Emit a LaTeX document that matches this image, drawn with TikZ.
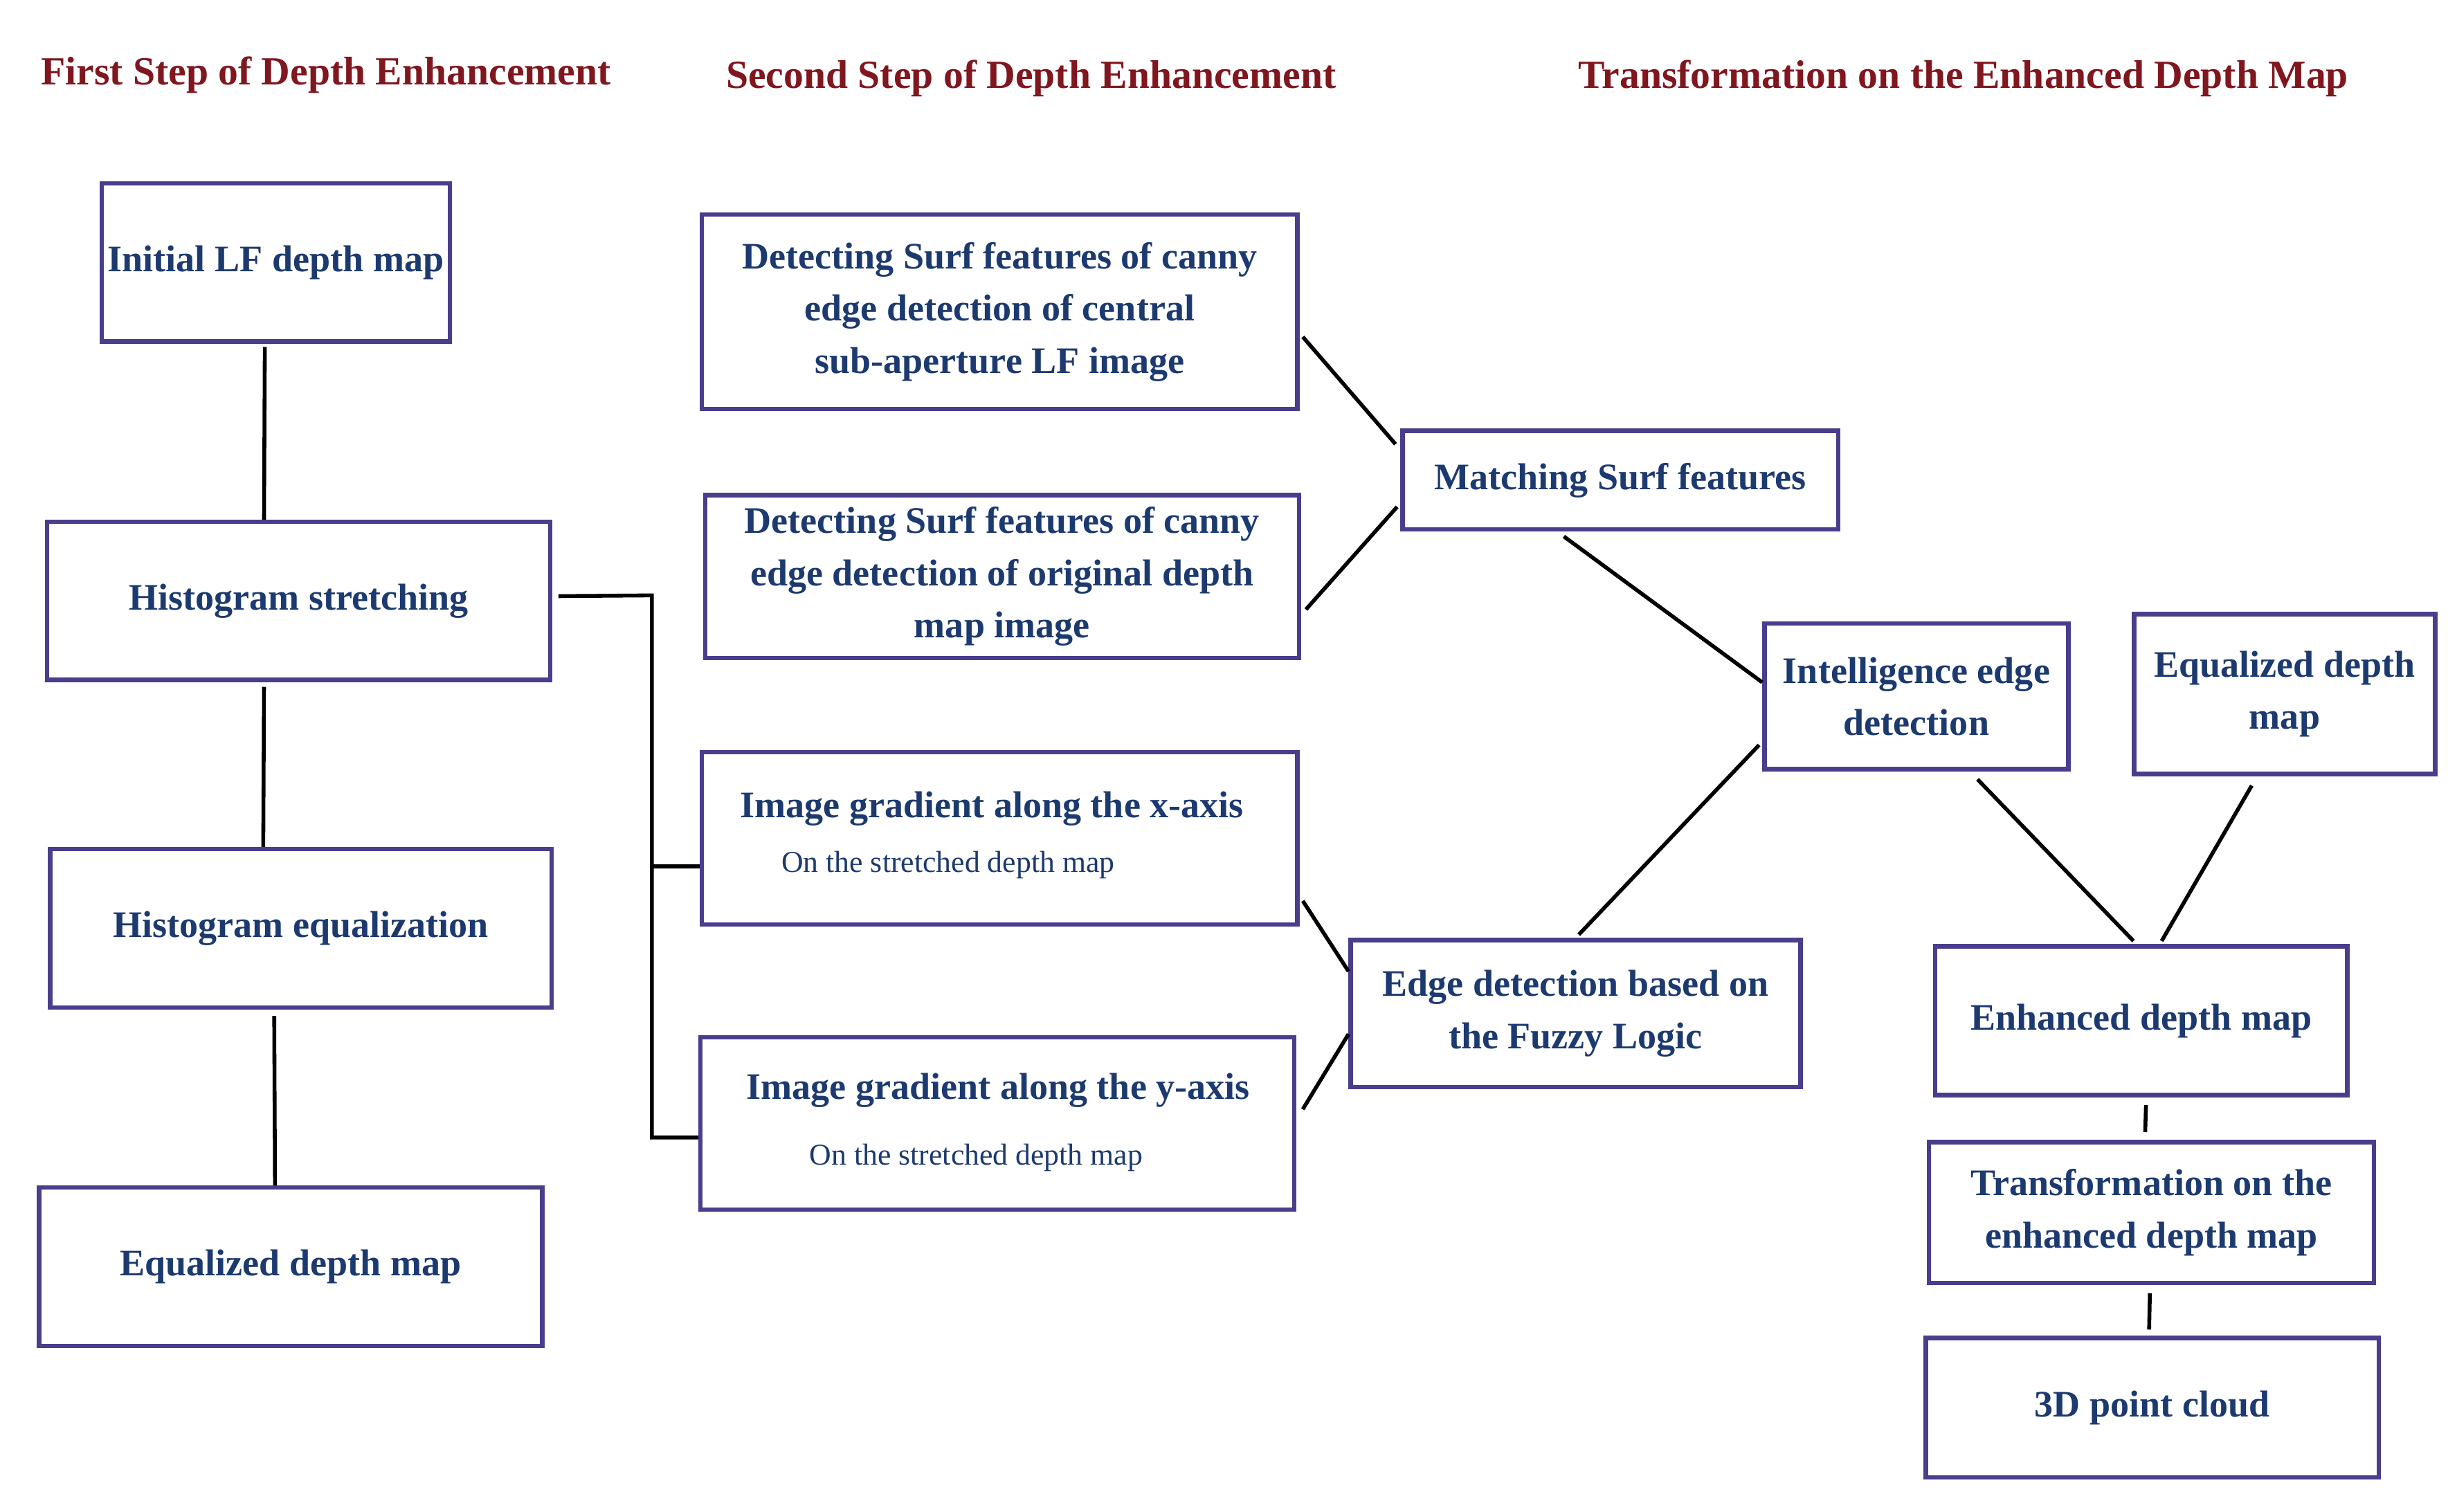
\documentclass[tikz,border=0pt]{standalone}
\usepackage{fontspec}
\setmainfont{Liberation Serif}
\usetikzlibrary{calc}
\definecolor{txt}{RGB}{28,58,112}
\definecolor{brd}{RGB}{72,62,140}
\definecolor{hd}{RGB}{128,22,30}
\begin{document}
\begin{tikzpicture}[x=0.02cm,y=-0.02cm,
  box/.style={draw=brd,line width=1.6pt,inner sep=0pt,font=\fontsize{13.6}{19}\selectfont\bfseries,text=txt,align=center},
  hd/.style={font=\fontsize{14.5}{16}\selectfont\bfseries,text=hd},
  sub/.style={font=\fontsize{11}{12}\selectfont,text=txt},
  ln/.style={line width=1.4pt,black}]
\useasboundingbox (0,0) rectangle (1568,965);
\fill[white] (0,0) rectangle (1568,965);
\node[hd] (h1) at (208,48) {First Step of Depth Enhancement};
\node[hd] (h2) at (658,50) {Second Step of Depth Enhancement};
\node[hd] (h3) at (1253,50) {Transformation on the Enhanced Depth Map};
\newcommand{\bx}[6]{\node[box,minimum width={(#4-#2)*0.02cm},minimum height={(#5-#3)*0.02cm}] (#1) at ({(#2+#4)/2},{(#3+#5)/2}) {#6};}
\bx{a}{65}{117}{287}{218}{Initial LF depth map}
\bx{b}{30}{333}{351}{434}{Histogram stretching}
\bx{c}{32}{542}{352}{643}{Histogram equalization}
\bx{d}{25}{758}{346}{859}{Equalized depth map}
\bx{e}{448}{137}{828}{261}{Detecting Surf features of canny\\edge detection of central\\sub-aperture LF image}
\bx{f}{450}{316}{829}{420}{Detecting Surf features of canny\\edge detection of original depth\\map image}
\bx{g}{448}{480}{828}{590}{}
\bx{h}{447}{662}{826}{772}{}
\node[box,draw=none] (gt) at (633,516) {Image gradient along the x-axis};
\node[sub] (gs) at (605,552) {On the stretched depth map};
\node[box,draw=none] (ht) at (637,696) {Image gradient along the y-axis};
\node[sub] (hs) at (623,739) {On the stretched depth map};
\bx{m}{895}{275}{1173}{338}{Matching Surf features}
\bx{z}{862}{600}{1149}{694}{Edge detection based on\\the Fuzzy Logic}
\bx{i}{1126}{398}{1320}{491}{Intelligence edge\\detection}
\bx{q}{1362}{392}{1554}{494}{Equalized depth\\map}
\bx{n}{1235}{604}{1498}{699}{Enhanced depth map}
\bx{t}{1231}{729}{1515}{819}{Transformation on the\\enhanced depth map}
\bx{p}{1229}{854}{1518}{943}{3D point cloud}
\draw[ln] ($(a.south)+(-7,2)$) -- ($(b.north)+(-22,0)$);
\draw[ln] ($(b.south)+(-22,3)$) -- ($(c.north)+(-24,0)$);
\draw[ln] ($(c.south)+(-17,4)$) -- ($(d.north)+(-10,0)$);
\coordinate (br) at (416,380);
\coordinate (hw) at ($(h.west)+(0,9)$);
\draw[ln] ($(b.east)+(4,-3)$) -- (br) -- (br|-hw) -- (hw);
\draw[ln] (416,553) -- ($(g.west)+(0,18)$);
\draw[ln] ($(e.east)+(2,16)$) -- ($(m.west)+(-3,-23)$);
\draw[ln] ($(f.east)+(3,21)$) -- ($(m.west)+(-2,17)$);
\draw[ln] ($(m.south)+(-36,3)$) -- ($(i.west)+(0,-9)$);
\draw[ln] ($(g.east)+(2,40)$) -- ($(z.west)+(0,-27)$);
\draw[ln] ($(h.east)+(4,-9)$) -- ($(z.west)+(0,13)$);
\draw[ln] ($(z.north)+(2,-2)$) -- ($(i.west)+(-2,31)$);
\draw[ln] ($(i.south)+(39,5)$) -- ($(n.north)+(-5,-2)$);
\draw[ln] ($(q.south)+(-21,6)$) -- ($(n.north)+(13,-2)$);
\draw[ln] ($(n.south)+(3,5)$) -- ($(t.north)+(-4,-5)$);
\draw[ln] ($(t.south)+(-1,5)$) -- ($(p.north)+(-2,-4)$);
\end{tikzpicture}
\end{document}
